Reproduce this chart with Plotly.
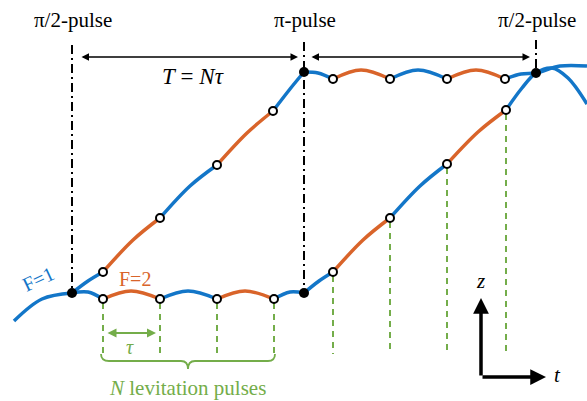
import plotly.graph_objects as go

BLUE = "#1376C8"
ORANGE = "#D9642A"
GREEN = "#74AD4A"
FONT = "Liberation Serif"

# pulse times (pixel x) and heights
pulse_t = [72, 304, 536]
pulse_labels = ["π/2-pulse", "π-pulse", "π/2-pulse"]
pulse_top = [45, 42, 40]
pulse_bottom = [289, 288, 72]

# trajectory segments: colour code + (x, y) nodes
lower_path = [
    ("b", [(14, 321), (42, 299), (72, 293)]),
    ("b", [(72, 293), (88, 292), (103, 299)]),
    ("o", [(103, 299), (131, 291), (160, 299)]),
    ("b", [(160, 299), (188, 291), (217, 299)]),
    ("o", [(217, 299), (245, 291), (274, 299)]),
    ("b", [(274, 299), (290, 292), (304, 293)]),
    ("b", [(304, 293), (319, 281), (333, 272)]),
    ("o", [(333, 272), (363, 240), (390, 218)]),
    ("b", [(390, 218), (420, 186), (447, 164)]),
    ("o", [(447, 164), (478, 132), (506, 110)]),
    ("b", [(506, 110), (522, 88), (536, 73), (552, 68), (568, 78), (587, 104)]),
]
upper_path = [
    ("b", [(72, 293), (88, 281), (103, 272)]),
    ("o", [(103, 272), (133, 240), (160, 218)]),
    ("b", [(160, 218), (190, 186), (217, 165)]),
    ("o", [(217, 165), (247, 133), (273, 111)]),
    ("b", [(273, 111), (290, 89), (304, 72)]),
    ("b", [(304, 72), (318, 73), (333, 79)]),
    ("o", [(333, 79), (361, 70), (390, 79)]),
    ("b", [(390, 79), (418, 70), (447, 79)]),
    ("o", [(447, 79), (476, 70), (505, 79)]),
    ("b", [(505, 79), (521, 74), (536, 73), (560, 66), (587, 66)]),
]

# levitation-pulse nodes (open circles) and beam-splitter nodes (black dots)
open_x = [103, 160, 217, 274, 333, 390, 447, 506, 103, 160, 217, 273, 333, 390, 447, 505]
open_y = [299, 299, 299, 299, 272, 218, 164, 110, 272, 218, 165, 111, 79, 79, 79, 79]
dot_x = [72, 304, 304, 536]
dot_y = [293, 293, 72, 73]

# green dashed levitation-pulse markers
lev_x = [103, 160, 217, 274, 333, 390, 447, 506]
lev_top = [303, 303, 303, 303, 276, 222, 168, 114]
lev_bottom = 354

fig = go.Figure()

for x, y0, y1 in zip(pulse_t, pulse_top, pulse_bottom):
    fig.add_trace(go.Scatter(x=[x, x], y=[y0, y1], mode="lines",
                             line=dict(color="black", width=2, dash="9px,4px,2px,4px"),
                             hoverinfo="skip"))
for x, y0 in zip(lev_x, lev_top):
    fig.add_trace(go.Scatter(x=[x, x], y=[y0, lev_bottom], mode="lines",
                             line=dict(color=GREEN, width=2, dash="6px,5px"),
                             hoverinfo="skip"))

colors = {"b": BLUE, "o": ORANGE}
for path in (lower_path, upper_path):
    for c, pts in path:
        fig.add_trace(go.Scatter(x=[p[0] for p in pts], y=[p[1] for p in pts],
                                 mode="lines", line=dict(color=colors[c], width=3.5, shape="spline"),
                                 hoverinfo="skip"))

fig.add_trace(go.Scatter(x=open_x, y=open_y, mode="markers",
                         marker=dict(size=8, color="white", line=dict(color="black", width=2)),
                         hoverinfo="skip"))
fig.add_trace(go.Scatter(x=dot_x, y=dot_y, mode="markers",
                         marker=dict(size=10, color="black"), hoverinfo="skip"))

for x, lab in zip(pulse_t, pulse_labels):
    fig.add_annotation(x=x + 1, y=20, text=lab, showarrow=False,
                       font=dict(family=FONT, size=21, color="black"))

def darrow(x0, x1, y, color, width):
    fig.add_annotation(x=x1, y=y, ax=x0, ay=y, xref="x", yref="y", axref="x", ayref="y",
                       text="", showarrow=True, arrowside="end+start", arrowhead=2,
                       arrowsize=1, arrowwidth=width, arrowcolor=color, standoff=0, startstandoff=0)

darrow(80, 298, 57, "black", 1.5)
darrow(310, 530, 57, "black", 1.5)
darrow(106, 156, 333, GREEN, 1.8)

fig.add_annotation(x=193, y=76, text="<i>T</i> = <i>N</i><i>τ</i>", showarrow=False,
                   font=dict(family=FONT, size=23, color="black"))
fig.add_annotation(x=38, y=279, text="F=1", showarrow=False, textangle=-25,
                   font=dict(family=FONT, size=20, color=BLUE))
fig.add_annotation(x=135, y=279, text="F=2", showarrow=False,
                   font=dict(family=FONT, size=20, color=ORANGE))
fig.add_annotation(x=130, y=347, text="<i>τ</i>", showarrow=False,
                   font=dict(family=FONT, size=20, color=GREEN))
fig.add_annotation(x=187, y=388, text="<i>N</i> levitation pulses", showarrow=False,
                   font=dict(family=FONT, size=21, color=GREEN))

fig.add_shape(type="path",
              path="M 101,354 Q 101,361 109,361 L 181,361 Q 188,361 188,369 "
                   "Q 188,361 195,361 L 268,361 Q 275,361 275,354",
              line=dict(color=GREEN, width=1.8), xref="x", yref="y")

for tx, ty in ((481, 298), (546, 377)):
    fig.add_annotation(x=tx, y=ty, ax=481, ay=377, xref="x", yref="y", axref="x", ayref="y",
                       text="", showarrow=True, arrowhead=2, arrowsize=0.9, arrowwidth=3.5,
                       arrowcolor="black", standoff=0)
fig.add_annotation(x=480, y=281, text="<i>z</i>", showarrow=False,
                   font=dict(family=FONT, size=21, color="black"))
fig.add_annotation(x=557, y=375, text="<i>t</i>", showarrow=False,
                   font=dict(family=FONT, size=21, color="black"))

fig.update_layout(width=587, height=401, margin=dict(l=0, r=0, t=0, b=0),
                  paper_bgcolor="white", plot_bgcolor="white", showlegend=False,
                  font=dict(family=FONT),
                  xaxis=dict(range=[0, 587], visible=False, fixedrange=True),
                  yaxis=dict(range=[401, 0], visible=False, fixedrange=True))
fig.write_html("out.html", config={"displayModeBar": False})

with open("out.html", encoding="utf-8") as f:
    html = f.read()
html = html.replace("<head>", "<head><style>html,body{margin:0;padding:0;overflow:hidden;}</style>", 1)
with open("out.html", "w", encoding="utf-8") as f:
    f.write(html)
